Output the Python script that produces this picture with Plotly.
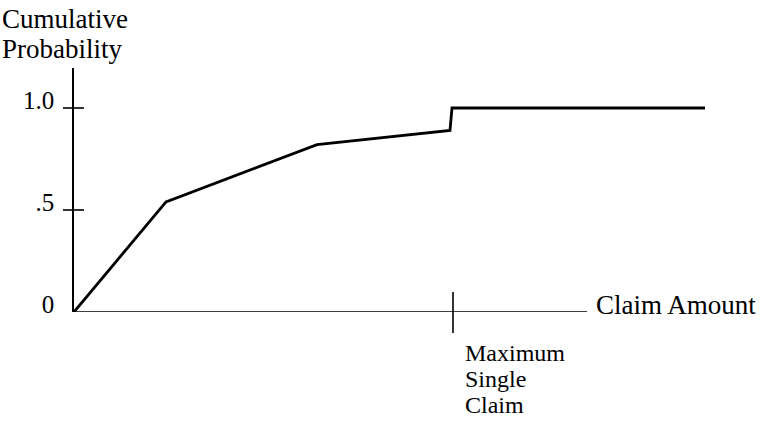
import plotly.graph_objects as go

# Data (claim amount in arbitrary units, cumulative probability)
claim_amount = [0, 92, 243, 376, 378, 631]
cum_prob = [0.0, 0.54, 0.82, 0.89, 1.0, 1.0]
max_single_claim = 378
x_axis_end = 513
y_tick_vals = [0, 0.5, 1.0]
y_tick_text = ["0", ".5", "1.0"]

FONT = "Liberation Serif"
W, H = 766, 431
L, R, T, B = 74, 56, 68, 119
PW, PH = W - L - R, H - T - B

def px(xp):
    return (xp - L) / PW

def py(yp):
    return (H - B - yp) / PH

fig = go.Figure()
fig.add_trace(go.Scatter(
    x=claim_amount, y=cum_prob, mode="lines",
    line=dict(color="black", width=2.8), hoverinfo="skip", showlegend=False,
))

shapes = []
# x axis line
shapes.append(dict(type="line", xref="x", yref="y", x0=0, x1=x_axis_end, y0=0, y1=0,
                   line=dict(color="black", width=1.6)))
# crossing ticks on y axis
for v in y_tick_vals[1:]:
    shapes.append(dict(type="line", xref="paper", yref="y", x0=px(63), x1=px(84), y0=v, y1=v,
                       line=dict(color="black", width=1.6)))
# max single claim tick
shapes.append(dict(type="line", xref="x", yref="paper",
                   x0=max_single_claim + 1, x1=max_single_claim + 1, y0=py(333), y1=py(292),
                   line=dict(color="black", width=1.6)))

big_font = dict(family=FONT, size=27, color="black")
annotations = [
    dict(text="Cumulative", xref="paper", yref="paper", x=px(0), y=py(19),
         xanchor="left", yanchor="middle", showarrow=False, font=big_font),
    dict(text="Probability", xref="paper", yref="paper", x=px(0), y=py(49),
         xanchor="left", yanchor="middle", showarrow=False, font=big_font),
    dict(text="Claim Amount", xref="paper", yref="paper", x=px(594), y=py(305),
         xanchor="left", yanchor="middle", showarrow=False, font=big_font),
]
for label, yc in [("Maximum", 353), ("Single", 379), ("Claim", 405)]:
    annotations.append(dict(text=label, xref="paper", yref="paper", x=px(463), y=py(yc),
                            xanchor="left", yanchor="middle", showarrow=False,
                            font=dict(family=FONT, size=24, color="black")))

fig.update_layout(
    width=W, height=H,
    margin=dict(l=L, r=R, t=T, b=B, pad=0),
    paper_bgcolor="white", plot_bgcolor="white",
    xaxis=dict(range=[0, PW], visible=False, fixedrange=True),
    yaxis=dict(range=[0, PH * 0.5 / 102], showline=True, linecolor="black", linewidth=1.6,
               showgrid=False, zeroline=False, ticks="",
               tickvals=y_tick_vals, ticktext=y_tick_text,
               tickfont=dict(family=FONT, size=25, color="black"),
               ticklabelstandoff=13, ticklabelshift=-8, fixedrange=True),
    shapes=shapes, annotations=annotations, showlegend=False,
)

fig.write_html("out.html", config={"displayModeBar": False},
               post_script="document.body.style.margin='0';document.body.style.overflow='hidden';")
